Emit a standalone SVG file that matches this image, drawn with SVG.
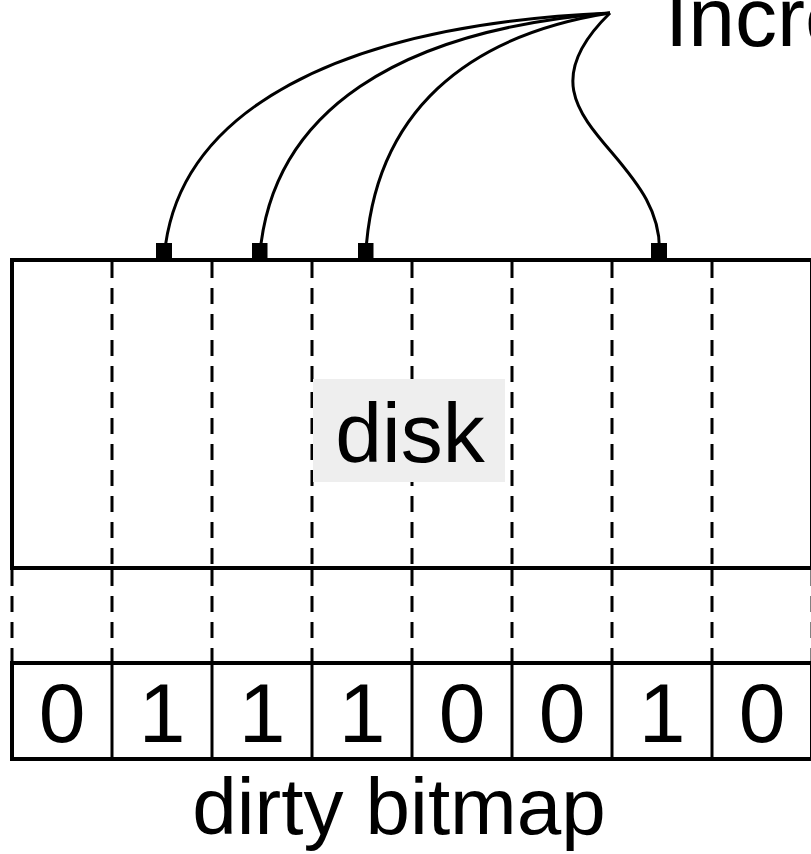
<svg xmlns="http://www.w3.org/2000/svg" width="811" height="854" viewBox="0 0 811 854">
<defs>
<marker id="sq" viewBox="0 0 16 16" refX="8" refY="16" markerWidth="16" markerHeight="16" markerUnits="userSpaceOnUse" orient="0">
<rect x="0" y="0" width="16" height="16" fill="#000"/>
</marker>
<style>
.t{font-family:"Liberation Sans",Arial,sans-serif;font-size:84px;fill:#000;text-anchor:middle}
.solid{fill:none;stroke:#000;stroke-width:4}
.dash{fill:none;stroke:#000;stroke-width:3;stroke-dasharray:16 10}
.cell{fill:none;stroke:#000;stroke-width:3}
.conn{fill:none;stroke:#000;stroke-width:3;marker-end:url(#sq)}
</style>
</defs>
<rect width="811" height="854" fill="#fff"/>
<g id="disk">
<rect class="solid" x="12" y="260" width="800" height="308"/>
<g>
<line class="dash" x1="112" y1="262" x2="112" y2="566"/>
<line class="dash" x1="212" y1="262" x2="212" y2="566"/>
<line class="dash" x1="312" y1="262" x2="312" y2="566"/>
<line class="dash" x1="412" y1="262" x2="412" y2="566"/>
<line class="dash" x1="512" y1="262" x2="512" y2="566"/>
<line class="dash" x1="612" y1="262" x2="612" y2="566"/>
<line class="dash" x1="712" y1="262" x2="712" y2="566"/>
</g>
<rect x="313" y="379" width="192" height="103" fill="#eeeeee"/>
<text class="t" x="410" y="462">disk</text>
</g>
<g id="mapping">
<line class="dash" x1="12" y1="570" x2="12" y2="662"/>
<line class="dash" x1="112" y1="570" x2="112" y2="662"/>
<line class="dash" x1="212" y1="570" x2="212" y2="662"/>
<line class="dash" x1="312" y1="570" x2="312" y2="662"/>
<line class="dash" x1="412" y1="570" x2="412" y2="662"/>
<line class="dash" x1="512" y1="570" x2="512" y2="662"/>
<line class="dash" x1="612" y1="570" x2="612" y2="662"/>
<line class="dash" x1="712" y1="570" x2="712" y2="662"/>
<line class="dash" x1="812" y1="570" x2="812" y2="662"/>
</g>
<g id="bitmap">
<rect class="solid" x="12" y="663" width="800" height="96"/>
<line class="cell" x1="112" y1="663" x2="112" y2="759"/>
<line class="cell" x1="212" y1="663" x2="212" y2="759"/>
<line class="cell" x1="312" y1="663" x2="312" y2="759"/>
<line class="cell" x1="412" y1="663" x2="412" y2="759"/>
<line class="cell" x1="512" y1="663" x2="512" y2="759"/>
<line class="cell" x1="612" y1="663" x2="612" y2="759"/>
<line class="cell" x1="712" y1="663" x2="712" y2="759"/>
<text class="t" x="62" y="742">0</text>
<text class="t" x="162" y="742">1</text>
<text class="t" x="262" y="742">1</text>
<text class="t" x="362" y="742">1</text>
<text class="t" x="462" y="742">0</text>
<text class="t" x="562" y="742">0</text>
<text class="t" x="662" y="742">1</text>
<text class="t" x="762" y="742">0</text>
<text class="t" x="399" y="834" style="font-size:80px">dirty bitmap</text>
</g>
<g id="label">
<text class="t" x="665" y="46" style="text-anchor:start">Incremental</text>
</g>
<g id="connectors">
<path class="conn" d="M610,13 C340,25 175,110 164,259"/>
<path class="conn" d="M610,13 C400,30 270,110 259.5,259"/>
<path class="conn" d="M610,13 C470,35 372,110 365.5,259"/>
<path class="conn" d="M610,13 C500,120 670,150 659,259"/>
</g>
</svg>
